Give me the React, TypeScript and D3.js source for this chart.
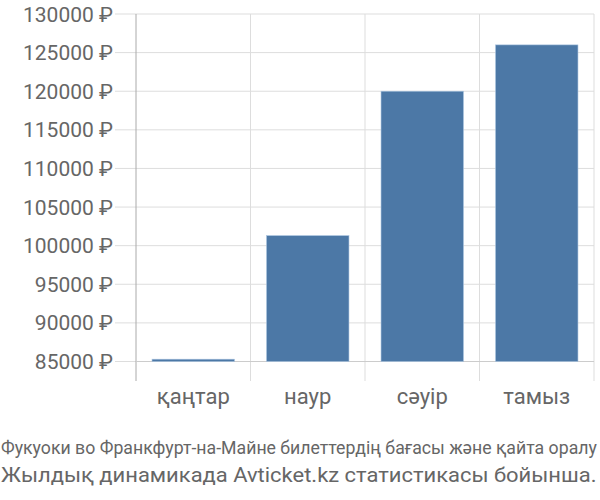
import React, { useLayoutEffect, useRef, useState } from "react";
import * as d3 from "d3";

const categories = ["қаңтар", "наур", "сәуір", "тамыз"];
const values = [85300, 101300, 120000, 126000];
const yTicks = [85000, 90000, 95000, 100000, 105000, 110000, 115000, 120000, 125000, 130000];
const footer1 = "Фукуоки во Франкфурт-на-Майне билеттердің бағасы және қайта оралу";
const footer2 = "Жылдық динамикада Avticket.kz статистикасы бойынша.";

function FitText({ text, x, y, width, fontSize, fill }: { text: string; x: number; y: number; width: number; fontSize: number; fill: string }) {
  const ref = useRef<SVGTextElement>(null);
  const [k, setK] = useState(1);
  useLayoutEffect(() => {
    if (ref.current) {
      const w = ref.current.getComputedTextLength();
      if (w > 0) setK(width / w);
    }
  }, [text, width, fontSize]);
  return (
    <text ref={ref} x={0} y={0} fontSize={fontSize} fill={fill} transform={`translate(${x},${y}) scale(${k},1)`}>
      {text}
    </text>
  );
}

export default function App() {
  const W = 600, H = 500;
  const left = 136, right = 594, top = 14;
  const y = d3.scaleLinear().domain([85000, 130000]).range([361.5, 14]);
  const x = d3.scaleBand().domain(categories).range([left, right]).paddingInner(0.28).paddingOuter(0.14);
  const bandStep = (right - left) / categories.length;
  const grid = "#dddddd";
  const txt = "#666";
  const font = "Roboto, sans-serif";
  return (
    <svg width={W} height={H} style={{ position: "absolute", left: 0, top: 0 }} fontFamily={font}>
      {yTicks.map((t) => (
        <g key={t}>
          <line x1={115} x2={right} y1={y(t)} y2={y(t)} stroke={grid} strokeWidth={1} />
          <text x={113} y={y(t)} dy="0.36em" textAnchor="end" fontSize={21} fill={txt}>
            {t} ₽
          </text>
        </g>
      ))}
      {d3.range(categories.length + 1).map((i) => (
        <line key={i} x1={left + i * bandStep} x2={left + i * bandStep} y1={top} y2={381} stroke={i === 0 ? "#aaa" : grid} strokeWidth={1} />
      ))}
      <line x1={left} x2={right} y1={y(85000)} y2={y(85000)} stroke="#ccc" strokeWidth={1} />
      {categories.map((c, i) => (
        <rect key={c} x={x(c)!} width={x.bandwidth()} y={y(values[i])} height={y(85000) - y(values[i])} fill="#4c78a6" stroke="#a9c3df" strokeWidth={0.6} />
      ))}
      {categories.map((c) => (
        <text key={c} x={x(c)! + x.bandwidth() / 2} y={404} textAnchor="middle" fontSize={22} fill={txt}>
          {c}
        </text>
      ))}
      <FitText text={footer1} x={1} y={454} width={596} fontSize={19} fill={txt} />
      <FitText text={footer2} x={1} y={482} width={596} fontSize={21} fill={txt} />
    </svg>
  );
}
